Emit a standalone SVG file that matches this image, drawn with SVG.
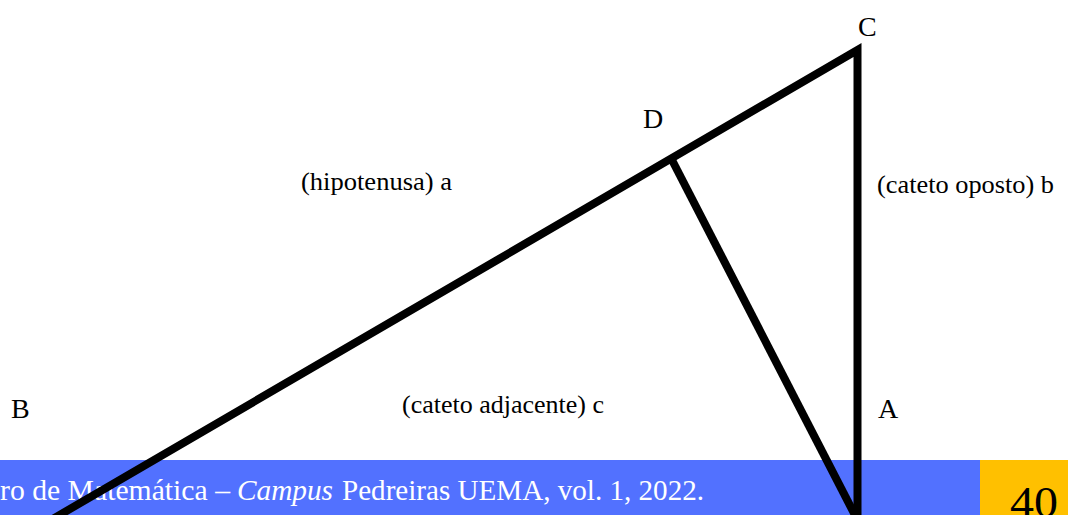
<svg xmlns="http://www.w3.org/2000/svg" width="1068" height="515" viewBox="0 0 1068 515">
  <style>
    .lbl { font-family: "Liberation Serif", "Times New Roman", serif; fill: #000; }
    .pt { font-size: 28px; }
    .ph { font-size: 26px; }
    .foot { font-family: "Liberation Serif", serif; font-size: 29px; fill: #fff; }
    .edge { fill: none; stroke: #000; stroke-width: 8; stroke-linejoin: miter; stroke-linecap: butt; }
  </style>
  <rect x="0" y="0" width="1068" height="515" fill="#fff"/>
  <g id="footer">
    <rect x="0" y="460" width="980" height="55" fill="#5271ff"/>
    <rect x="980" y="460" width="88" height="55" fill="#ffc000"/>
    <text class="foot" x="0" y="500" textLength="230" lengthAdjust="spacingAndGlyphs">ro de Matemática –</text>
    <text class="foot" x="237" y="500" font-style="italic" textLength="96" lengthAdjust="spacingAndGlyphs">Campus</text>
    <text class="foot" x="342" y="500" textLength="362" lengthAdjust="spacingAndGlyphs">Pedreiras UEMA, vol. 1, 2022.</text>
    <text x="1010" y="517" font-family="Liberation Serif, serif" font-size="44" fill="#000" textLength="48" lengthAdjust="spacingAndGlyphs">40</text>
  </g>
  <g id="connectors">
    <polyline class="edge" points="15,541 857.5,50 857.5,530"/>
    <line class="edge" x1="672" y1="160" x2="858" y2="521"/>
  </g>
  <g id="node-C"><text class="lbl pt" x="858" y="36">C</text></g>
  <g id="node-D"><text class="lbl pt" x="643" y="128">D</text></g>
  <g id="node-B"><text class="lbl pt" x="11" y="418">B</text></g>
  <g id="node-A"><text class="lbl pt" x="878" y="418">A</text></g>
  <g id="label-a"><text class="lbl ph" x="301" y="190" textLength="151" lengthAdjust="spacingAndGlyphs">(hipotenusa) a</text></g>
  <g id="label-b"><text class="lbl ph" x="877" y="193" textLength="177" lengthAdjust="spacingAndGlyphs">(cateto oposto) b</text></g>
  <g id="label-c"><text class="lbl ph" x="402" y="413" textLength="202" lengthAdjust="spacingAndGlyphs">(cateto adjacente) c</text></g>
</svg>
